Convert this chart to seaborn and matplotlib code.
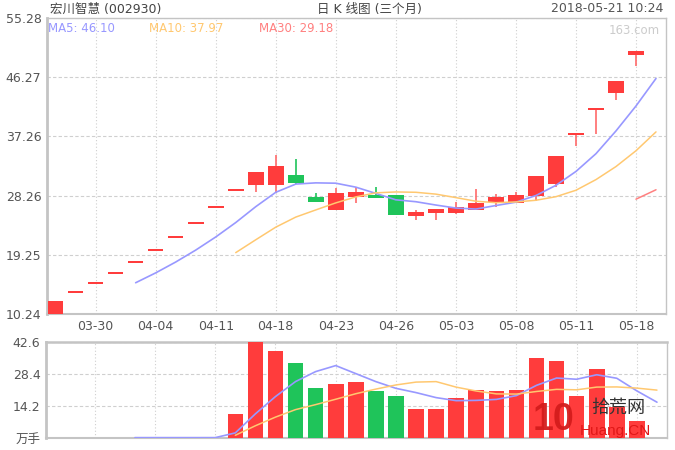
import matplotlib
matplotlib.use("Agg")
import matplotlib.pyplot as plt
import numpy as np
import pandas as pd
import seaborn as sns

# daily candles (30 shown)
opens = [10.24, 13.51, 14.86, 16.35, 17.98, 19.78, 21.76, 23.94, 26.33, 28.96,
         29.87, 29.80, 31.40, 28.00, 26.07, 28.00, 28.30, 28.35, 25.16, 25.66,
         25.66, 26.07, 27.34, 27.18, 28.20, 30.03, 37.50, 41.30, 43.83, 49.70]
closes = [12.28, 13.51, 14.86, 16.35, 17.98, 19.78, 21.76, 23.94, 26.33, 28.96,
          31.86, 32.70, 30.20, 27.25, 28.70, 28.86, 27.95, 25.31, 25.81, 26.17,
          26.57, 27.18, 28.00, 28.35, 31.25, 34.31, 37.74, 41.51, 45.66, 50.23]
highs = [12.28, 13.51, 14.86, 16.35, 17.98, 19.78, 21.76, 23.94, 26.33, 28.96,
         31.86, 34.40, 33.80, 28.60, 29.40, 29.60, 29.60, 28.35, 26.07, 26.20,
         27.24, 29.27, 28.50, 28.86, 31.25, 34.31, 37.74, 41.51, 45.66, 50.23]
lows = [10.24, 13.51, 14.86, 16.35, 17.98, 19.78, 21.76, 23.94, 26.33, 28.96,
        28.80, 28.60, 30.00, 27.24, 26.07, 27.10, 27.90, 25.31, 24.55, 24.55,
        25.46, 26.07, 26.48, 27.18, 27.49, 29.60, 35.80, 37.64, 42.81, 47.98]
# volume in 万手
volumes = [0.03, 0.02, 0.02, 0.02, 0.02, 0.02, 0.02, 0.03, 0.05, 10.6,
           42.6, 38.6, 33.5, 22.3, 24.0, 24.7, 20.7, 18.5, 12.8, 12.8,
           17.9, 21.3, 20.7, 21.3, 35.7, 34.2, 18.6, 30.7, 13.5, 7.5]
# today's (05-21) bar, not drawn but part of the moving averages
today_close = 55.25
today_volume = 9.0

tick_labels = ["03-30", "04-04", "04-11", "04-18", "04-23",
               "04-26", "05-03", "05-08", "05-11", "05-18"]
price_ticks = [10.24, 19.25, 28.26, 37.26, 46.27, 55.28]
vol_ticks = [0, 14.2, 28.4, 42.6]
vol_tick_labels = ["万手", "14.2", "28.4", "42.6"]
ma_labels = ["MA5: 46.10", "MA10: 37.97", "MA30: 29.18"]

RED = "#ff3c3c"
RED_WICK = "#ff6a6a"
GREEN = "#1fc45a"
C_MA5 = "#9898ff"
C_MA10 = "#ffc870"
C_MA30 = "#ff8080"
GRID = "#cfcfcf"
TXT = "#555555"

sns.set_style("white")
plt.rcParams["font.family"] = ["DejaVu Sans", "Noto Sans CJK SC"]

n = len(closes)
idx = np.arange(n)
up = [c >= o for o, c in zip(opens, closes)]
colors = [RED if u else GREEN for u in up]
wick_colors = [RED_WICK if u else GREEN for u in up]

df = pd.DataFrame({"idx": np.arange(n + 1),
                   "close": closes + [today_close],
                   "vol": volumes + [today_volume]})
df["ma5"] = df["close"].rolling(5).mean()
df["ma10"] = df["close"].rolling(10).mean()
df["ma30"] = df["close"].rolling(30).mean()
df["vma5"] = df["vol"].rolling(5).mean()
df["vma10"] = df["vol"].rolling(10).mean()

fig = plt.figure(figsize=(6.75, 4.5), dpi=100)
ax = fig.add_axes([47 / 675, 1 - 314 / 450, (666 - 47) / 675, (314 - 18) / 450])
axv = fig.add_axes([46 / 675, 1 - 437.7 / 450, (667 - 46) / 675, (437.7 - 342.3) / 450])

xlim = (-0.43, 30.5)
tick_pos = np.arange(2, n, 3)

# candles
ax.vlines(idx, lows, highs, colors=wick_colors, lw=1.2, zorder=2)
bodies = [max(abs(c - o), 0.3) for o, c in zip(opens, closes)]
ax.bar(idx, bodies, bottom=np.minimum(opens, closes), width=0.78,
       color=colors, linewidth=0, zorder=3)

sns.lineplot(data=df, x="idx", y="ma5", ax=ax, color=C_MA5, lw=1.2, estimator=None, zorder=4)
sns.lineplot(data=df, x="idx", y="ma10", ax=ax, color=C_MA10, lw=1.1, estimator=None, zorder=4)
sns.lineplot(data=df, x="idx", y="ma30", ax=ax, color=C_MA30, lw=1.1, estimator=None, zorder=4)

ax.set_xlim(*xlim)
ax.set_ylim(price_ticks[0], price_ticks[-1])
ax.set_yticks(price_ticks)
ax.set_yticklabels([f"{v:.2f}" for v in price_ticks])
ax.set_xticks(tick_pos)
ax.set_xticklabels(tick_labels)
ax.set_xlabel("")
ax.set_ylabel("")

# volume
axv.bar(idx, volumes, width=0.78, color=colors, linewidth=0, zorder=3)
sns.lineplot(data=df, x="idx", y="vma5", ax=axv, color=C_MA5, lw=1.2, estimator=None, zorder=4)
sns.lineplot(data=df, x="idx", y="vma10", ax=axv, color=C_MA10, lw=1.1, estimator=None, zorder=4)
axv.set_xlim(*xlim)
axv.set_ylim(0, vol_ticks[-1])
axv.set_yticks(vol_ticks)
axv.set_yticklabels(vol_tick_labels)
axv.set_xticks(tick_pos)
axv.set_xticklabels([])
axv.set_xlabel("")
axv.set_ylabel("")

for a in (ax, axv):
    a.tick_params(length=0, labelsize=9, colors=TXT, pad=4)
    a.yaxis.grid(True, color=GRID, ls=(0, (3, 2)), lw=0.8)
    a.xaxis.grid(True, color=GRID, ls=(0, (1, 2)), lw=0.8)
    a.set_axisbelow(True)
    for side, sp in a.spines.items():
        sp.set_visible(True)
        sp.set_color("#c4c4c4")
        sp.set_linewidth(1)
    a.spines["left"].set_linewidth(2)
    a.spines["bottom"].set_linewidth(1.5)
axv.spines["top"].set_linewidth(1.8)

# header texts
fig.text(50 / 675, 1 - 9 / 450, "宏川智慧 (002930)", fontsize=9, color="#444444", va="center")
fig.text(369 / 675, 1 - 9 / 450, "日 K 线图 (三个月)", fontsize=9, color="#444444", va="center", ha="center")
fig.text(663 / 675, 1 - 9 / 450, "2018-05-21 10:24", fontsize=9, color="#555555", va="center", ha="right")

ma_colors = [C_MA5, C_MA10, C_MA30]
ma_x = [48, 149, 259]
for lab, c, x in zip(ma_labels, ma_colors, ma_x):
    fig.text(x / 675, 1 - 28 / 450, lab, fontsize=8.5, color=c, va="center")
fig.text(660 / 675, 1 - 30 / 450, "163.com", fontsize=8.5, color="#cccccc", va="center", ha="right")

# site watermark
fig.text(533 / 675, 1 - 420 / 450, "10", fontsize=27, fontweight="bold", color="#d41c1c",
         family="Liberation Sans", va="center", ha="left", alpha=0.95)
fig.text(591 / 675, 1 - 408 / 450, "拾荒网", fontsize=13, color="#333333",
         family="Noto Sans CJK SC", va="center", ha="left")
fig.text(580 / 675, 1 - 431 / 450, "Huang.CN", fontsize=11, color="#e01818",
         family="Liberation Sans", va="center", ha="left")

fig.savefig("out.png", dpi=100, facecolor="white")
